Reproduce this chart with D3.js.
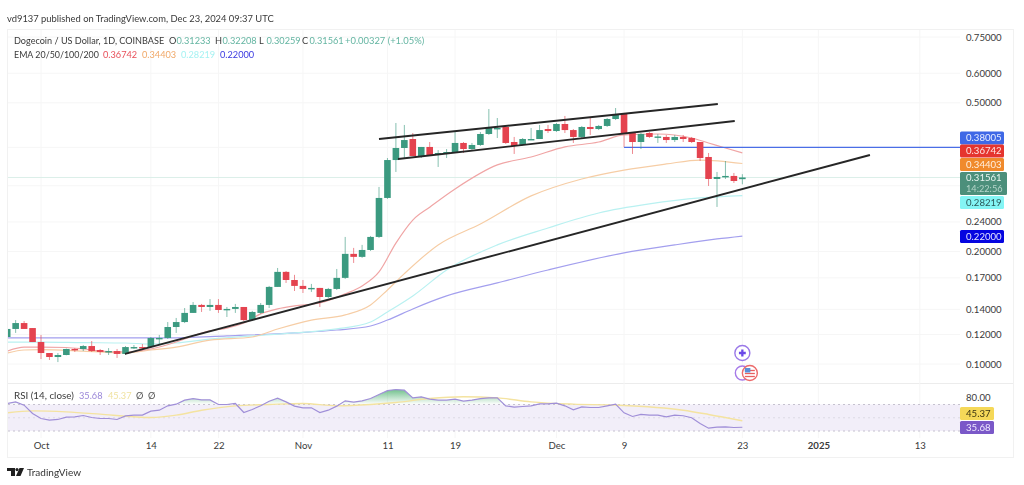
<!DOCTYPE html>
<html><head><meta charset="utf-8">
<script src="https://cdn.jsdelivr.net/npm/d3@7/dist/d3.min.js"></script>
<style>
html,body{margin:0;padding:0;background:#fff;overflow:hidden}
svg{display:block;filter:blur(0.35px)}
text{font-family:Lato,sans-serif}
</style></head><body><svg id="c" width="1024" height="485"></svg>
<script>
// day index: 0 = 1 Oct 2024
const firstDay = -4;
const opens  = [.1181,.1241,.1287,.1248,.1145,.1070,.1044,.1057,.1097,.1097,.1117,.1090,.1077,.1083,.1064,.1103,.1110,.1110,.1167,.1174,.1256,.1295,.1370,.1439,.1421,.1439,.1400,.1404,.1421,.1311,.1370,.1439,.1608,.1764,.1678,.1618,.1593,.1598,.1511,.1588,.1700,.1971,.1935,.2019,.2188,.2782,.3514,.3785,.4000,.3603,.3809,.3625,.3648,.3692,.3904,.3761,.3856,.4126,.4254,.4308,.3927,.3856,.3975,.4000,.4254,.4202,.4388,.4227,.4051,.4308,.4254,.4335,.4525,.4667,.4151,.3927,.4151,.4040,.4051,.3975,.4051,.4025,.3927,.3581,.3127,.3166,.3186,.31233];
const highs  = [.1264,.1311,.1303,.1248,.1196,.1070,.1070,.1100,.1103,.1124,.1152,.1097,.1103,.1097,.1117,.1124,.1131,.1181,.1196,.1295,.1328,.1412,.1465,.1448,.1492,.1492,.1421,.1448,.1421,.1387,.1456,.1618,.1807,.1774,.1732,.1678,.1638,.1598,.1598,.1796,.2188,.2045,.2083,.2201,.2977,.3558,.4415,.4362,.4151,.3809,.3927,.3737,.3761,.4177,.3927,.3904,.4177,.4812,.4553,.4308,.4051,.4025,.4281,.4362,.4362,.4415,.4610,.4254,.4335,.4553,.4362,.4553,.4842,.4696,.4151,.4151,.4177,.4126,.4101,.4101,.4101,.4051,.3927,.3670,.3265,.3493,.3245,.32208];
const lows   = [.1174,.1211,.1241,.1145,.1031,.1025,.1012,.1055,.1077,.1083,.1077,.1057,.1057,.1038,.1057,.1097,.1097,.1103,.1124,.1167,.1211,.1287,.1370,.1378,.1387,.1370,.1336,.1370,.1303,.1303,.1362,.1412,.1608,.1648,.1568,.1549,.1559,.1421,.1502,.1578,.1689,.1864,.1923,.2007,.2174,.2765,.3265,.3558,.3603,.3558,.3603,.3367,.3558,.3670,.3670,.3737,.3832,.4101,.4025,.3880,.3648,.3832,.3975,.4000,.4151,.4177,.4151,.3904,.4025,.4101,.4227,.4308,.4496,.4126,.3648,.3761,.4025,.3904,.3904,.3927,.3927,.3904,.3493,.2995,.2632,.3127,.3051,.30259];
const closes = [.1241,.1287,.1241,.1145,.1070,.1044,.1057,.1097,.1090,.1117,.1083,.1077,.1083,.1064,.1110,.1110,.1103,.1174,.1174,.1256,.1295,.1370,.1439,.1421,.1439,.1395,.1404,.1421,.1311,.1378,.1439,.1608,.1764,.1678,.1618,.1588,.1598,.1511,.1588,.1700,.1971,.1935,.2019,.2188,.2782,.3514,.3785,.3975,.3603,.3809,.3625,.3670,.3692,.3904,.3761,.3856,.4126,.4281,.4281,.3904,.3832,.4000,.4000,.4227,.4202,.4388,.4227,.4051,.4308,.4254,.4335,.4525,.4638,.4151,.3927,.4126,.4051,.4063,.3975,.4051,.4000,.3927,.3558,.3127,.3166,.3186,.3088,.31561];

const ema20Days = [-4,-2,0,3,5,7,10,13,16,18,20,22,24,26,28,30,33,36,38,40,42,44,46,49,54,58,62,66,69,73,77,79,81,83];
const ema20 = [.1083,.1110,.1110,.1107,.1097,.1083,.1077,.1097,.1145,.1189,.1226,.1248,.1287,.1362,.1404,.1430,.1456,.1540,.1618,.1764,.2107,.2428,.2628,.2940,.3410,.3581,.3809,.3927,.4101,.4126,.4025,.3904,.3785,.36742];
const ema50Days = [-4,-2,0,5,10,13,16,20,25,28,32,36,39,41,43,47,52,58,64,69,74,78,83];
const ema50 = [.1070,.1090,.1093,.1083,.1070,.1090,.1110,.1159,.1181,.1241,.1311,.1353,.1439,.1578,.1745,.2083,.2370,.2817,.3127,.3304,.3430,.3514,.34403];
const ema100Days = [-4,0,5,10,13,16,19,25,30,35,39,41,44,48,54,60,66,72,78,83];
const ema100 = [.1145,.1145,.1141,.1138,.1131,.1138,.1159,.1189,.1211,.1241,.1295,.1378,.1521,.1785,.2083,.2312,.2536,.2681,.2782,.28219];
const ema200Days = [-4,5,15,22,30,35,39,41,44,48,54,60,69,75,80,83];
const ema200 = [.1174,.1174,.1174,.1189,.1211,.1233,.1264,.1311,.1404,.1521,.1648,.1785,.1983,.2083,.2161,.2200];

const rsi = [71.5,74,69,56.4,48.9,46.4,47.4,50.9,51.4,53.4,50.4,48.9,48.9,47.4,52.9,53.9,53.9,59.9,61.4,68,70.5,76.5,79,77,77,70,70,71.5,57.9,62.5,68,75,79.6,74,67.5,65,65,57.9,61.4,67.5,75.5,73.5,75.5,79,85,91,92.6,91.6,80,81.6,78,76.5,76.5,78,75,76.5,79,80,80,68,66,67,68,71,71,72,68,62,66.5,65.5,65.5,68,70.5,57.4,51.9,55,54,54,51.4,54,53,50,41.3,34.3,35.8,36.3,35.3,35.68];
const rsiMaDays = [-4,-1,3,7,11,13,16,19,23,27,31,35,39,42,46,50,54,58,63,68,76,79,83];
const rsiMa = [57.4,60.4,58.9,55.4,51.4,50.4,53.9,61.4,68,70,71.5,68,70,73,79,81.6,80,74,70.5,69,61.4,55,45.37];

const channelTop = [[40,.4000],[80.1,.4963]];
const channelBottom = [[42.25,.3536],[82.1,.4469]];
const supportLine = [[9.94,.1064],[98.1,.3625]];
const boxLine = [[69,.4101],[69,.38005],[109,.38005]];

const priceTicks = [.75,.6,.5,.24,.2,.17,.14,.12,.1];
const rsiTicks = [80];
const timeTickDays = [0,13,21,31,41,49,61,69,83,92,104];
const timeTickLabels = ["Oct","14","22","Nov","11","19","Dec","9","23","2025","13"];

const priceTags = [
 {v:"0.38005",cy:138,bg:"#3f68e6",fg:"#e8eeff"},
 {v:"0.36742",cy:151,bg:"#e5352f",fg:"#ffe6e4"},
 {v:"0.34403",cy:164.5,bg:"#f08a2c",fg:"#fff0e0"},
 {v:"0.28219",cy:202.5,bg:"#84f5f5",fg:"#2c5a5a"},
 {v:"0.22000",cy:236.5,bg:"#0505e0",fg:"#e4e4ff"}
];
const headerText = "vd9137 published on TradingView.com, Dec 23, 2024 09:37 UTC";
const legendTitle = "Dogecoin / US Dollar, 1D, COINBASE";
const ohlcLabels = ["O","H","L","C"];
const ohlcValues = ["0.31233","0.32208","0.30259","0.31561"];
const changeText = "+0.00327 (+1.05%)";
const emaLabel = "EMA 20/50/100/200";
const emaLabels = ["0.36742","0.34403","0.28219","0.22000"];

const UP="#3b9a80", DOWN="#e4434f";
const AX=9.6, LEG=9.2;
const svg=d3.select("#c");
const x=d3.scaleLinear().domain([0,100]).range([41,886]);
const y=d3.scaleLog().domain([.1,.75]).range([364,37]);
const ry=d3.scaleLinear().domain([30,70]).range([431,404.5]);

const defs=svg.append("defs");
defs.append("clipPath").attr("id","pane").append("rect").attr("x",8).attr("y",30).attr("width",952).attr("height",352);
defs.append("clipPath").attr("id","rpane").append("rect").attr("x",8).attr("y",384).attr("width",952).attr("height",56);
const g=defs.append("linearGradient").attr("id","ob").attr("gradientUnits","userSpaceOnUse")
  .attr("x1",0).attr("x2",0).attr("y1",ry(100)).attr("y2",ry(70));
g.append("stop").attr("offset",0).attr("stop-color","#3aa860").attr("stop-opacity",.95);
g.append("stop").attr("offset",1).attr("stop-color","#3aa860").attr("stop-opacity",0);
defs.append("clipPath").attr("id","above").append("rect").attr("x",8).attr("y",384).attr("width",952).attr("height",ry(70)-384);

// frame
svg.append("rect").attr("x",7.5).attr("y",29.5).attr("width",1006).attr("height",428).attr("fill","#fff").attr("stroke","#f1f1f1");
svg.append("line").attr("x1",8).attr("x2",1013).attr("y1",383.5).attr("y2",383.5).attr("stroke","#ececec");

// grid
const grid=svg.append("g").attr("stroke","#f6f6f6");
grid.selectAll("line.h").data(priceTicks.concat([.38,.3])).join("line").attr("x1",8).attr("x2",960).attr("y1",d=>y(d)).attr("y2",d=>y(d));
grid.selectAll("line.v").data(timeTickDays).join("line").attr("x1",d=>x(d)).attr("x2",d=>x(d)).attr("y1",30).attr("y2",438);

// axes
const pa=svg.append("g").attr("transform","translate(966,0)").call(d3.axisRight(y).tickValues(priceTicks).tickFormat(d3.format(".5f")).tickSize(0).tickPadding(0));
pa.select(".domain").remove();
pa.selectAll("text").attr("font-size",AX).attr("fill","#3a3a3a").style("font-family","Lato");
const ta=svg.append("g").attr("transform","translate(0,442)").call(d3.axisBottom(x).tickValues(timeTickDays).tickFormat((d,i)=>timeTickLabels[i]).tickSize(0).tickPadding(0));
ta.select(".domain").remove();
ta.selectAll("text").attr("font-size",AX).attr("fill","#3a3a3a").style("font-family","Lato").attr("font-weight",(d,i)=>timeTickLabels[i]==="2025"?700:400);
const ra=svg.append("g").attr("transform","translate(966,0)").call(d3.axisRight(ry).tickValues(rsiTicks).tickFormat(d3.format(".2f")).tickSize(0).tickPadding(0));
ra.select(".domain").remove();
ra.selectAll("text").attr("font-size",AX).attr("fill","#3a3a3a").style("font-family","Lato");

// main pane
const pane=svg.append("g").attr("clip-path","url(#pane)");
pane.append("line").attr("x1",8).attr("x2",960).attr("y1",y(.31561)).attr("y2",y(.31561)).attr("stroke","#dcefe9");
const ln=d3.line().x(d=>x(d[0])).y(d=>y(d[1]));
const smooth=d3.line().x(d=>x(d[0])).y(d=>y(d[1])).curve(d3.curveMonotoneX);
[[ema200Days,ema200,"#a39fee"],[ema100Days,ema100,"#b9f1f1"],[ema50Days,ema50,"#f6cda5"],[ema20Days,ema20,"#f0a5a5"]].forEach(([ds,vs,c])=>{
  pane.append("path").attr("d",smooth(ds.map((d,i)=>[d,vs[i]]))).attr("fill","none").attr("stroke",c).attr("stroke-width",1.2);
});
// box line
pane.append("line").attr("x1",x(boxLine[0][0])).attr("x2",x(boxLine[1][0])).attr("y1",y(boxLine[0][1])).attr("y2",y(boxLine[1][1])).attr("stroke","#ee8f92").attr("stroke-width",1);
pane.append("line").attr("x1",x(boxLine[1][0])).attr("x2",x(boxLine[2][0])).attr("y1",y(boxLine[1][1])).attr("y2",y(boxLine[2][1])).attr("stroke","#4a6ee6").attr("stroke-width",1.3);

// candles
const candles=opens.map((o,i)=>({d:firstDay+i,o,h:highs[i],l:lows[i],c:closes[i]}));
const cg=pane.selectAll("g.c").data(candles).join("g").attr("class","c");
cg.append("line").attr("x1",d=>x(d.d)).attr("x2",d=>x(d.d)).attr("y1",d=>y(d.h)).attr("y2",d=>y(d.l))
  .attr("stroke",d=>d.c>=d.o?UP:DOWN).attr("stroke-opacity",.62).attr("stroke-width",1);
cg.append("rect").attr("x",d=>x(d.d)-3.3).attr("width",6.6)
  .attr("y",d=>y(Math.max(d.o,d.c))).attr("height",d=>Math.max(1.4,Math.abs(y(d.o)-y(d.c))))
  .attr("fill",d=>d.c>=d.o?UP:DOWN);

// trend lines
[channelTop,channelBottom,supportLine].forEach(l=>{
  pane.append("path").attr("d",ln(l)).attr("fill","none").attr("stroke","#262626").attr("stroke-width",1.9);
});

// RSI pane
const rp=svg.append("g").attr("clip-path","url(#rpane)");
rp.append("rect").attr("x",8).attr("width",952).attr("y",ry(70)).attr("height",ry(30)-ry(70)).attr("fill","#f2eef9");
const rline=d3.line().x((d,i)=>x(firstDay+i)).y(d=>ry(d));
const rarea=d3.area().x((d,i)=>x(firstDay+i)).y0(ry(70)).y1(d=>ry(d));
rp.append("path").attr("d",rarea(rsi)).attr("fill","url(#ob)").attr("clip-path","url(#above)");
[70,50,30].forEach(v=>rp.append("line").attr("x1",8).attr("x2",960).attr("y1",ry(v)).attr("y2",ry(v)).attr("stroke","#c6c2cf").attr("stroke-dasharray","2 3").attr("stroke-opacity",v===50?.45:1));
rp.append("path").attr("d",d3.line().x((d,i)=>x(rsiMaDays[i])).y(d=>ry(d)).curve(d3.curveMonotoneX)(rsiMa)).attr("fill","none").attr("stroke","#f4e3a0").attr("stroke-width",1.4);
rp.append("path").attr("d",rline(rsi)).attr("fill","none").attr("stroke","#a08fd8").attr("stroke-width",1.2);

// tags
function tag(yc,h,w,bg,fg,t){
  svg.append("rect").attr("x",960).attr("y",yc-h/2).attr("width",w).attr("height",h).attr("rx",1.5).attr("fill",bg);
  svg.append("text").attr("x",966).attr("y",yc).attr("dy",".35em").attr("font-size",AX).attr("fill",fg).text(t);
}
priceTags.forEach(t=>tag(t.cy,13,44,t.bg,t.fg,t.v));
svg.append("rect").attr("x",960).attr("y",172).attr("width",47).attr("height",23).attr("rx",1.5).attr("fill","#4c8f7b");
svg.append("text").attr("x",966).attr("y",178).attr("dy",".35em").attr("font-size",AX).attr("fill","#e8f5f0").text("0.31561");
svg.append("text").attr("x",966).attr("y",189).attr("dy",".35em").attr("font-size",9.2).attr("fill","#b5d5ca").text("14:22:56");
tag(413.5,13,34,"#f5d858","#3c3410","45.37");
tag(427.5,13,34,"#7a58c8","#efe8ff","35.68");

// texts
function T(xp,yp,t,c,fs,w){return svg.append("text").attr("x",xp).attr("y",yp).attr("dy",".35em").attr("font-size",fs||LEG).attr("fill",c||"#3a3a3a").attr("font-weight",w||400).text(t);}
T(7,19,headerText,"#3a3a3a",9.4);
T(14,41,legendTitle,"#3a3a3a",9.1);
[169,215,259,302].forEach((xp,i)=>{T(xp,41,ohlcLabels[i]);T(xp+7.5,41,ohlcValues[i],"#64b5a2");});
T(345,41,changeText,"#64b5a2",9.4);
T(14,55,emaLabel,"#3a3a3a",8.9);
["#e8505a","#f0a868","#a5f2f2","#3a3ae0"].forEach((c,i)=>T([103,142,181,220][i],55,emaLabels[i],c));
T(14,396,"RSI (14, close)","#3a3a3a",9.8);
T(79,396,"35.68","#9a86d8");
T(108,396,"45.37","#f0e2a0");
T(136,396,"Ø","#555");T(148,396,"Ø","#555");

// event markers
const mk=svg.append("g");
const mx=x(83);
mk.append("circle").attr("cx",mx).attr("cy",353).attr("r",7.5).attr("fill","#fff").attr("stroke","#9a78e8").attr("stroke-width",1.4);
mk.append("path").attr("d",d3.symbol(d3.symbolCross,26)()).attr("transform",`translate(${mx},353)`).attr("fill","#6a48e8");
mk.append("circle").attr("cx",mx).attr("cy",373).attr("r",7).attr("fill","#fff").attr("stroke","#a67ae8").attr("stroke-width",1.4);
mk.append("circle").attr("cx",mx+7.5).attr("cy",373).attr("r",7.5).attr("fill","#fff").attr("stroke","#ec6a6a").attr("stroke-width",1.4);
[370.5,373.5,376.5].forEach(v=>mk.append("line").attr("x1",mx+2.5).attr("x2",mx+12.5).attr("y1",v).attr("y2",v).attr("stroke","#e86060").attr("stroke-width",1.3));
mk.append("rect").attr("x",mx+2.5).attr("y",368).attr("width",5.5).attr("height",4.5).attr("fill","#5a8fd8");

// logo
const lg=svg.append("g").attr("fill","#1f1f1f");
lg.append("path").attr("d","M7 468H15V476H11V471H7Z");
lg.append("circle").attr("cx",17).attr("cy",469.6).attr("r",1.6);
lg.append("path").attr("d","M19.5 468H24L20.5 476H16Z");
T(27,472,"TradingView","#333",10);
</script></body></html>
